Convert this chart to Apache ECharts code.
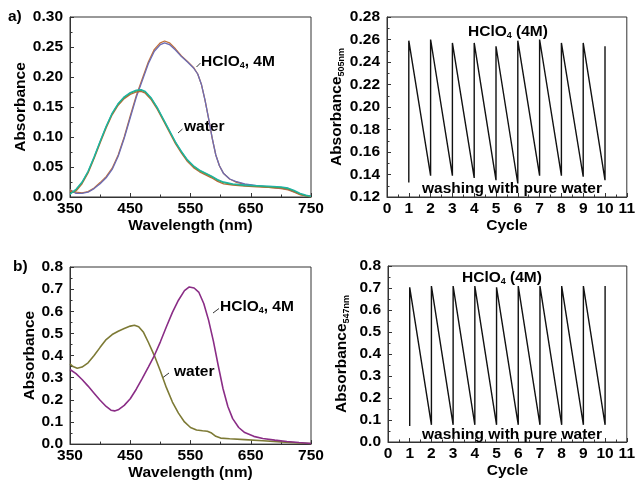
<!DOCTYPE html>
<html lang="en">
<head>
<meta charset="UTF-8">
<title>Absorbance</title>
<script src="https://cdn.jsdelivr.net/npm/echarts@6/dist/echarts.min.js"></script>
<style>
    *{margin:0;padding:0}
    html,body{width:100%;height:100%;overflow:hidden;background:#fff}
    .container{width:638px;height:482px}
</style>
</head>
<body>
<div class="container"></div>
<script>
    // panel a, spectra
    const wlHA = [350,360,370,380,390,400,410,420,430,440,450,460,470,480,490,500,507,515,525,535,545,555,562,568,574,580,586,592,598,605,615,625,640,660,680,700,712,722,732,742,750];
    const hclA1 = [0.012,0.006,0.006,0.008,0.014,0.022,0.032,0.046,0.068,0.098,0.132,0.166,0.194,0.222,0.243,0.254,0.257,0.254,0.245,0.234,0.225,0.215,0.205,0.188,0.162,0.131,0.098,0.070,0.052,0.039,0.030,0.026,0.022,0.019,0.017,0.015,0.013,0.009,0.005,0.002,0.001];
    const hclA2 = [0.010,0.008,0.007,0.009,0.015,0.024,0.034,0.048,0.070,0.100,0.135,0.169,0.197,0.225,0.246,0.257,0.260,0.257,0.247,0.235,0.226,0.216,0.205,0.188,0.162,0.131,0.098,0.070,0.052,0.039,0.030,0.025,0.021,0.018,0.016,0.014,0.012,0.008,0.004,0.002,0.001];
    const wlWA = [350,355,360,370,380,390,400,410,420,430,440,450,460,468,475,485,495,505,515,525,535,545,555,565,575,585,595,605,620,640,660,680,700,712,722,732,742,750];
    const waterA1 = [0.006,0.008,0.012,0.024,0.042,0.066,0.092,0.117,0.139,0.155,0.166,0.173,0.177,0.178,0.175,0.164,0.148,0.129,0.110,0.091,0.075,0.061,0.051,0.044,0.039,0.034,0.028,0.024,0.021,0.019,0.018,0.017,0.016,0.014,0.010,0.005,0.002,0.001];
    const waterA2 = [0.012,0.008,0.010,0.022,0.040,0.064,0.090,0.115,0.137,0.153,0.164,0.171,0.175,0.176,0.173,0.162,0.146,0.127,0.108,0.089,0.073,0.059,0.049,0.042,0.037,0.032,0.026,0.022,0.020,0.018,0.017,0.016,0.015,0.013,0.009,0.004,0.002,0.000];
    const waterA3 = [0.004,0.009,0.013,0.025,0.043,0.067,0.093,0.118,0.140,0.156,0.167,0.174,0.178,0.179,0.176,0.165,0.149,0.130,0.111,0.092,0.076,0.062,0.052,0.045,0.040,0.035,0.029,0.025,0.022,0.020,0.019,0.018,0.017,0.015,0.011,0.006,0.003,0.001];

    // panel b, spectra
    const wlHB = [350,360,370,380,390,400,410,418,424,430,440,450,460,470,480,490,500,510,520,530,540,548,556,564,572,580,588,596,604,612,620,630,640,655,670,690,710,730,750];
    const hclB = [0.337,0.318,0.292,0.262,0.230,0.198,0.170,0.153,0.150,0.155,0.175,0.205,0.248,0.297,0.348,0.400,0.462,0.530,0.595,0.650,0.693,0.710,0.705,0.685,0.635,0.560,0.465,0.355,0.250,0.170,0.115,0.075,0.052,0.035,0.025,0.018,0.012,0.007,0.003];
    const wlWB = [350,355,362,370,380,390,400,410,420,430,440,450,457,464,472,480,490,500,510,520,530,540,550,560,570,578,585,592,600,615,640,670,700,730,750];
    const waterB = [0.362,0.350,0.343,0.348,0.367,0.400,0.437,0.472,0.495,0.510,0.522,0.533,0.537,0.530,0.505,0.460,0.400,0.330,0.255,0.190,0.140,0.100,0.075,0.064,0.060,0.058,0.050,0.035,0.027,0.024,0.020,0.015,0.010,0.005,0.003];

    // cycling
    const cycles = [1,2,3,4,5,6,7,8,9,10];
    const lowA = [0.133,0.139,0.139,0.137,0.135,0.132,0.139,0.139,0.138,0.135];
    const highA = [0.259,0.260,0.257,0.257,0.254,0.259,0.260,0.257,0.257,0.254];
    const lowB = [0.073,0.078,0.078,0.078,0.078,0.078,0.078,0.078,0.078,0.078];
    const highB = [0.703,0.709,0.709,0.709,0.703,0.709,0.709,0.709,0.709,0.709];

    const font = '"Liberation Sans", Arial, sans-serif';
    const fs = 15.5;

    function pairs(xs, ys) {
        return xs.map((x, i) => [x, ys[i]]);
    }
    function cyclePath(low, high) {
        let out = [];
        cycles.forEach((c, i) => {
            out.push([c, low[i]]);
            out.push([c, high[i]]);
        });
        return out;
    }

    function axis(grid, min, max, interval, digits, name, nameGap) {
        return {
            type: 'value', gridIndex: grid, min, max, interval,
            name, nameLocation: 'middle', nameGap,
            nameTextStyle: {fontFamily: font, fontWeight: 'bold', fontSize: fs, color: '#000',
                rich: {
                    n: {fontFamily: font, fontWeight: 'bold', fontSize: fs, color: '#000'},
                    s: {fontFamily: font, fontWeight: 'bold', fontSize: 9, color: '#000', verticalAlign: 'bottom', padding: [10, 0, 0, 0]}
                }},
            axisLine: {show: true, lineStyle: {color: '#333', width: 1}},
            axisTick: {show: true, inside: true, length: 4, lineStyle: {color: '#333'}},
            minorTick: {show: true, splitNumber: 2, length: 2.5, lineStyle: {color: '#333'}},
            splitLine: {show: false},
            axisLabel: {
                fontFamily: font, fontWeight: 'bold', fontSize: fs, color: '#000', margin: 4,
                formatter: v => v.toFixed(digits)
            }
        };
    }

    function line(gx, data, color, width) {
        return {
            type: 'line', xAxisIndex: gx, yAxisIndex: gx, data,
            showSymbol: false, symbol: 'none', smooth: false,
            lineStyle: {color, width: width || 1.3}, animation: false
        };
    }

    const grids = [
        {left: 70, top: 17, width: 241, height: 180},
        {left: 387, top: 17, width: 243, height: 180},
        {left: 70, top: 267, width: 241, height: 178},
        {left: 388, top: 266, width: 242, height: 176}
    ].map(g => Object.assign(g, {show: true, borderColor: '#333', borderWidth: 1, containLabel: false}));

    const xAxes = [
        axis(0, 350, 750, 100, 0, 'Wavelength (nm)', 17),
        axis(1, 0, 11, 1, 0, 'Cycle', 18),
        axis(2, 350, 750, 100, 0, 'Wavelength (nm)', 15),
        axis(3, 0, 11, 1, 0, 'Cycle', 14)
    ];
    const yAxes = [
        axis(0, 0, 0.30, 0.05, 2, 'Absorbance', 41),
        axis(1, 0.12, 0.28, 0.02, 2, '{n|Absorbance}{s|505nm}', 37),
        axis(2, 0, 0.8, 0.1, 1, 'Absorbance', 30),
        axis(3, 0, 0.8, 0.1, 1, '{n|Absorbance}{s|547nm}', 37)
    ];
    yAxes.forEach(a => { a.axisLabel.margin = 7; });

    const series = [
        line(0, pairs(wlHA, hclA2), '#c0703a'),
        line(0, pairs(wlHA, hclA1), '#6c6cb4'),
        line(0, pairs(wlWA, waterA2), '#b8683a'),
        line(0, pairs(wlWA, waterA1), '#3aaa55'),
        line(0, pairs(wlWA, waterA3), '#1fb2a6'),
        line(1, cyclePath(lowA, highA), '#111', 1.4),
        line(2, pairs(wlWB, waterB), '#7d7a35', 1.6),
        line(2, pairs(wlHB, hclB), '#8a2d86', 1.6),
        line(3, cyclePath(lowB, highB), '#111', 1.4)
    ];

    const txt = (x, y, text, align) => ({
        type: 'text', x, y,
        style: {
            text, fill: '#000', font: 'bold ' + fs + 'px ' + font,
            align: align || 'left', verticalAlign: 'middle',
            rich: {
                s: {font: 'bold 9px ' + font, fill: '#000', padding: [8, 0, 0, 0]}
            }
        }
    });
    const lead = (x1, y1, x2, y2) => ({
        type: 'line', shape: {x1, y1, x2, y2}, style: {stroke: '#333', lineWidth: 1}
    });

    const graphic = [
        txt(8, 17, 'a)'),
        txt(13, 267, 'b)'),
        txt(201, 62, 'HClO{s|4}, 4M'),
        lead(196.5, 67, 200.5, 63),
        txt(184, 127, 'water'),
        lead(178, 133, 182.5, 129),
        txt(220, 307, 'HClO{s|4}, 4M'),
        lead(213, 313, 219, 308.5),
        txt(174, 372, 'water'),
        lead(163, 377.5, 169, 373),
        txt(468, 32, 'HClO{s|4} (4M)'),
        txt(512, 189, 'washing with pure water', 'center'),
        txt(462, 278, 'HClO{s|4} (4M)'),
        txt(512, 435, 'washing with pure water', 'center')
    ];

    const chart = echarts.init(document.querySelector('.container'));
    chart.setOption({
        animation: false,
        backgroundColor: '#fff',
        grid: grids,
        xAxis: xAxes,
        yAxis: yAxes,
        series,
        graphic
    });
</script>
</body>
</html>
